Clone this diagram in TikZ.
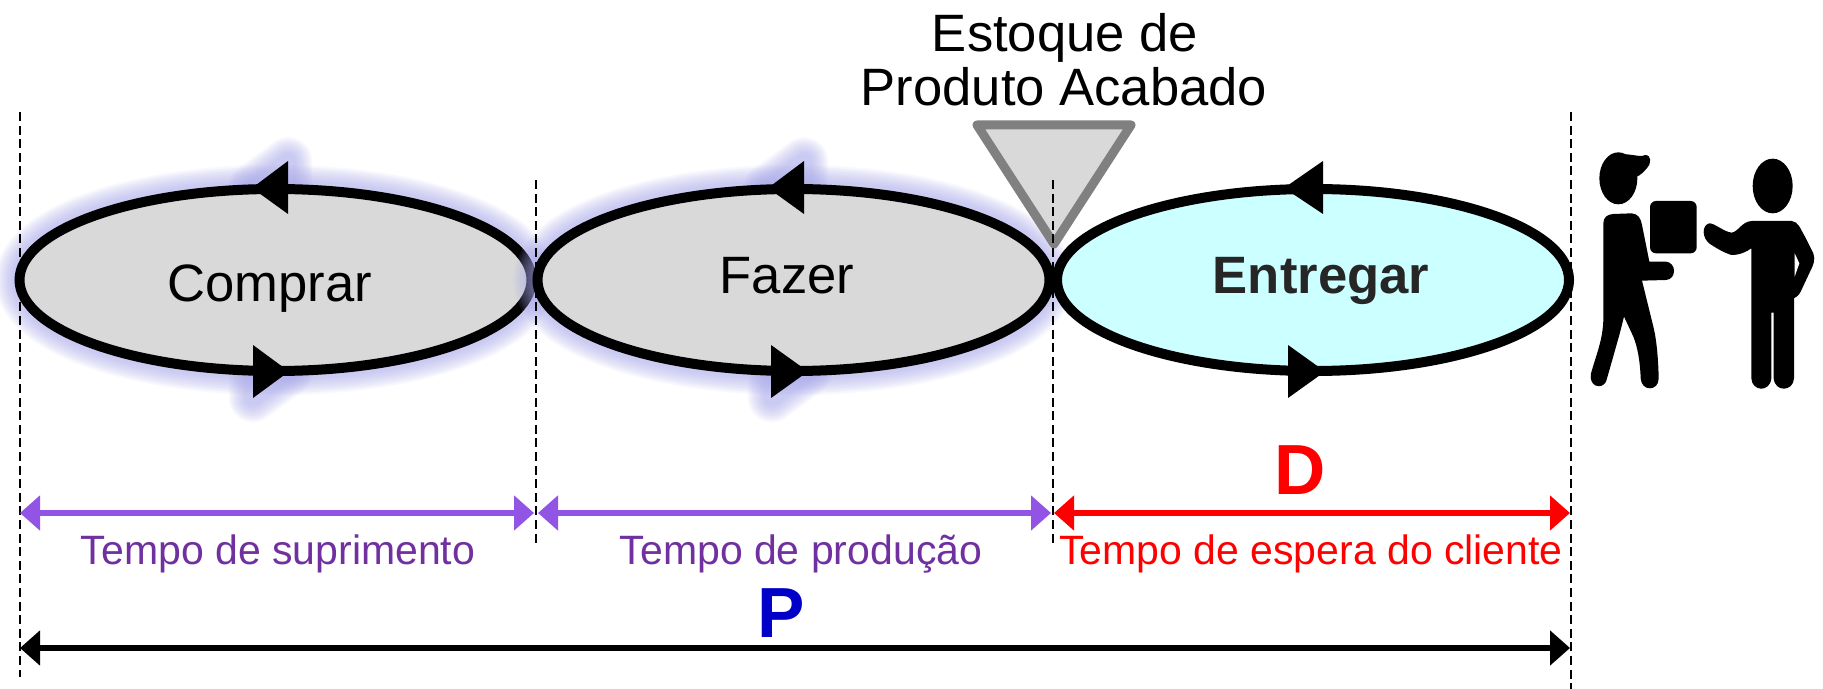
\documentclass[tikz,border=0pt]{standalone}
\usepackage{fontspec}
\setmainfont{Liberation Sans}
\usetikzlibrary{shapes.geometric,arrows.meta}
\definecolor{glowc}{HTML}{A8A8EC}
\definecolor{greyfill}{HTML}{D9D9D9}
\definecolor{cyanfill}{HTML}{CCFFFF}
\definecolor{tribord}{HTML}{808080}
\definecolor{purpline}{HTML}{9254E4}
\definecolor{purptext}{HTML}{7030A0}
\definecolor{bluetext}{HTML}{0000C8}
\definecolor{darktext}{HTML}{262626}
\newcommand{\fs}[1]{\fontsize{#1}{#1}\selectfont}
\tikzset{
  x=.5pt,y=-.5pt,
  cycleell/.style={draw=black,ellipse,line width=5pt,inner sep=0pt,outer sep=0pt,minimum width=256pt,minimum height=91pt},
  lab/.style={inner sep=0pt,outer sep=0pt,anchor=base,font=\fs{26.3}},
  small/.style={inner sep=0pt,outer sep=0pt,anchor=base,font=\fs{20.5}},
  big/.style={inner sep=0pt,outer sep=0pt,anchor=base,font=\fs{35.5}\bfseries},
  guide/.style={draw=black,line width=1pt,dash pattern=on 4.5pt off 2.3pt},
  span/.style={line width=3.3pt,{Triangle[length=10pt,width=17pt]}-{Triangle[length=10pt,width=17pt]}},
  anch/.style={inner sep=0pt,outer sep=0pt},
}
\newcommand{\glowell}[1]{%
  \foreach \w in {24,22,20,18,16,14,12,10,8}{
    \path[draw=glowc,draw opacity=.09,line width=\w pt,line join=round] (#1) ellipse [x radius=256,y radius=91];
  }}
\newcommand{\glowtri}[3]{%
  \foreach \w in {24,22,20,18,16,14,12,10,8}{
    \path[draw=glowc,draw opacity=.09,line width=\w pt,line join=round] (#1,#2) -- ++(#3*36,-26.5) -- ++(0,53) -- cycle;
  }}
\begin{document}
\begin{tikzpicture}
\useasboundingbox (0,0) rectangle (1823,689);
\fill[white] (0,0) rectangle (1823,689);
% glow + ellipses
\coordinate (cc) at (275.5,280);
\coordinate (fc) at (793.5,280);
\coordinate (ec) at (1313,280);
\glowell{cc}
\glowtri{252}{188}{1}
\glowtri{289}{371.5}{-1}
\node[cycleell,fill=greyfill] (comprar) at (cc) {};
\fill[black] (252,188) -- (288,161) -- (288,214) -- cycle;
\fill[black] (289,371.5) -- (253,345) -- (253,398) -- cycle;
\glowell{fc}
\glowtri{768}{188}{1}
\glowtri{808}{371.5}{-1}
\node[cycleell,fill=greyfill] (fazer) at (fc) {};
\fill[black] (768,188) -- (804,161) -- (804,214) -- cycle;
\fill[black] (808,371.5) -- (771,345) -- (771,398) -- cycle;
\node[cycleell,fill=cyanfill] (entregar) at (ec) {};
\fill[black] (1284,188) -- (1323,161) -- (1323,214) -- cycle;
\fill[black] (1325,371.5) -- (1288,345) -- (1288,398) -- cycle;
% labels
\node[lab] (tcomprar) at (270,302) {Comprar};
\node[lab] (tfazer) at (787,293) {Fazer};
\node[lab,text=darktext,font=\fs{26.3}\bfseries] (tentregar) at (1321,293) {Entregar};
% triangle
\node[anch] (tria) at (977,125) {};
\node[anch] (trib) at (1131,125) {};
\node[anch] (tric) at (1054,244) {};
\draw[draw=tribord,fill=greyfill,line width=4.5pt,line join=round] (tria.center) -- (trib.center) -- (tric.center) -- cycle;
\node[lab] (est1) at (1065,52) {Estoque de};
\node[lab] (est2) at (1064,106) {Produto Acabado};
% guides
\coordinate (g1a) at (19.5,112); \coordinate (g1b) at (19.5,677);
\coordinate (g2a) at (536,180); \coordinate (g2b) at (536,545);
\coordinate (g3a) at (1053,180); \coordinate (g3b) at (1053,545);
\coordinate (g4a) at (1571,112); \coordinate (g4b) at (1571,689);
\draw[guide] (g1a) -- (g1b);
\draw[guide] (g2a) -- (g2b);
\draw[guide] (g3a) -- (g3b);
\draw[guide] (g4a) -- (g4b);
% spans
\coordinate (s1a) at (20,513); \coordinate (s1b) at (534,513);
\coordinate (s2a) at (538,513); \coordinate (s2b) at (1051,513);
\coordinate (s3a) at (1054,513); \coordinate (s3b) at (1570,513);
\coordinate (s4a) at (20,648); \coordinate (s4b) at (1570,648);
\draw[span,purpline] (s1a) -- (s1b);
\draw[span,purpline] (s2a) -- (s2b);
\draw[span,red] (s3a) -- (s3b);
\draw[span,black] (s4a) -- (s4b);
\node[small,text=purptext] (t1) at (278,564) {Tempo de suprimento};
\node[small,text=purptext] (t2) at (801,564) {Tempo de produção};
\node[small,text=red] (t3) at (1311,564) {Tempo de espera do cliente};
\node[big,text=red] (d) at (1300,494) {D};
\node[big,text=bluetext] (p) at (781,637) {P};
% people
\begin{scope}[shift={(1550,120)},x=.5pt/3,y=-.5pt/3]
\fill[black] (205,175) ellipse [x radius=57,y radius=78];
\fill[black] (190,105) .. controls (230,95) and (270,115) .. (285,105) .. controls (305,105) and (305,130) .. (290,145) .. controls (275,165) and (262,170) .. (240,180) -- cycle;
\fill[black,rounded corners=3pt] (300,243) rectangle (440,400);
\fill[black] (190,282) -- (245,280) .. controls (265,282) and (272,295) .. (276,315) -- (298,425) -- (348,425) .. controls (380,428) and (380,478) .. (348,480) -- (276,482) -- (310,620) .. controls (320,660) and (325,720) .. (326,775) .. controls (326,815) and (274,815) .. (272,775) .. controls (270,720) and (262,680) .. (250,650) -- (222,590) -- (208,645) .. controls (195,690) and (180,745) .. (168,785) .. controls (155,810) and (115,800) .. (123,760) .. controls (140,700) and (158,660) .. (160,600) -- (160,310) .. controls (160,292) and (172,283) .. (190,282) -- cycle;
\fill[black] (668,198) ellipse [x radius=60,y radius=82];
\fill[black] (478,310) .. controls (495,310) and (520,335) .. (545,338) .. controls (565,335) and (575,305) .. (605,303) -- (725,303) .. controls (745,305) and (750,325) .. (765,350) -- (790,400) .. controls (797,420) and (790,435) .. (780,455) -- (752,515) .. controls (745,530) and (735,532) .. (732,535) -- (732,775) .. controls (730,815) and (675,818) .. (671,775) -- (671,578) -- (664,578) -- (664,775) .. controls (660,818) and (606,815) .. (604,775) -- (604,385) .. controls (590,395) and (570,405) .. (545,405) .. controls (525,400) and (500,385) .. (480,372) .. controls (455,355) and (455,315) .. (478,310) -- cycle;
\fill[white] (734,400) -- (748,430) -- (734,470) -- cycle;
\end{scope}
\end{tikzpicture}
\end{document}
